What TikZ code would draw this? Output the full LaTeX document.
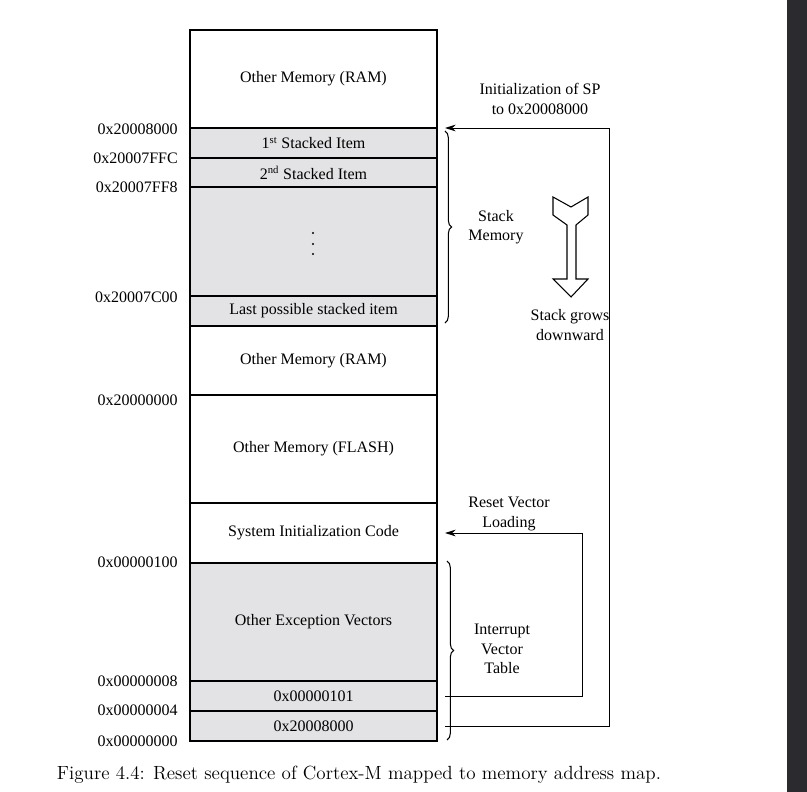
\documentclass[tikz,border=0pt]{standalone}
\usepackage{fontspec}
\newfontfamily\diagfont{Liberation Serif}
\usetikzlibrary{arrows.meta,calc,decorations.pathreplacing}
\definecolor{cellgray}{HTML}{E3E3E5}
\definecolor{sidebar}{HTML}{2B2A2F}
\tikzset{
 cell/.style={draw,line width=0.9pt,inner sep=0pt,outer sep=0pt,minimum width=185.25pt},
 addr/.style={anchor=east,inner sep=0pt},
 flow/.style={line width=0.75pt,-{Stealth[length=8pt,width=5pt]},shorten <=6pt,shorten >=6pt},
 membrace/.style={decorate,decoration={brace,amplitude=5pt},line width=0.8pt},
 note/.style={align=center,inner sep=0pt}
}
\begin{document}
\begin{tikzpicture}[x=0.75pt,y=-0.75pt,font=\diagfont\fontsize{12}{14.5}\selectfont]
 \useasboundingbox (0,0) rectangle (807,792);
 \fill[sidebar] (787,0) rectangle (807,792);
 % memory map, top to bottom
 \foreach \name/\top/\bot/\col/\lab in {
   ram1/30/128/white/{Other Memory (RAM)},
   item1/128/158/cellgray/{1\textsuperscript{st} Stacked Item},
   item2/158/187/cellgray/{2\textsuperscript{nd} Stacked Item},
   stackgap/187/296/cellgray/{},
   itemlast/296/326/cellgray/{Last possible stacked item},
   ram2/326/395/white/{Other Memory (RAM)},
   flash/395/503/white/{Other Memory (FLASH)},
   sysinit/503/563/white/{System Initialization Code},
   excvec/563/681/cellgray/{Other Exception Vectors},
   vec1/681/711/cellgray/{0x00000101},
   vec0/711/741/cellgray/{0x20008000}}{
  \pgfmathsetmacro{\cellh}{(\bot-\top)*0.75}
  \pgfmathsetmacro{\celly}{(\top+\bot)/2}
  \node[cell,fill=\col,minimum height=\cellh pt] (\name) at (313.5,\celly) {\lab};
 }
 \foreach \y in {233,244,254}{\fill (313,\y) circle (0.9pt);}
 % addresses
 \foreach \y/\lab in {129/0x20008000,158/0x20007FFC,187/0x20007FF8,297/0x20007C00,
   400/0x20000000,562/0x00000100,681/0x00000008,710/0x00000004,741/0x00000000}{
  \node[addr] (addr\y) at (178,\y) {\lab};
 }
 % braces
 \draw[membrace] ($(item1.north east)+(8,3)$) -- ($(itemlast.south east)+(8,-3)$);
 \draw[membrace] ($(excvec.north east)+(10,-2)$) -- ($(vec0.south east)+(10,-1)$);
 \node[note] (stacknote) at (496,227) {Stack\\Memory};
 \node[note] (ivtnote) at (502,649) {Interrupt\\Vector\\Table};
 % reset sequence
 \coordinate (spline) at (609,0);
 \coordinate (rvline) at (582,0);
 \draw[flow] (vec0.east) -- (vec0.east -| spline) |- (item1.north east);
 \draw[flow] (vec1.east) -- (vec1.east -| rvline) |- (sysinit.east);
 \node[note] (spnote) at (540,99) {Initialization of SP\\to 0x20008000};
 \node[note] (resetnote) at (509,514) {Reset Vector\\Loading};
 % stack growth
 \draw[line width=0.8pt,line join=miter] (553,197) -- (571,207) -- (588,197) -- (588,215)
   -- (576,225) -- (576,279) -- (588,279) -- (571,297) -- (553,279) -- (567,279)
   -- (567,225) -- (553,215) -- cycle;
 \node[note] (grownote) at (570,325) {Stack grows\\downward};
 \node (caption) at (359,775) {\rmfamily\fontsize{14.3}{17}\selectfont Figure 4.4: Reset sequence of Cortex-M mapped to memory address map.};
\end{tikzpicture}
\end{document}
